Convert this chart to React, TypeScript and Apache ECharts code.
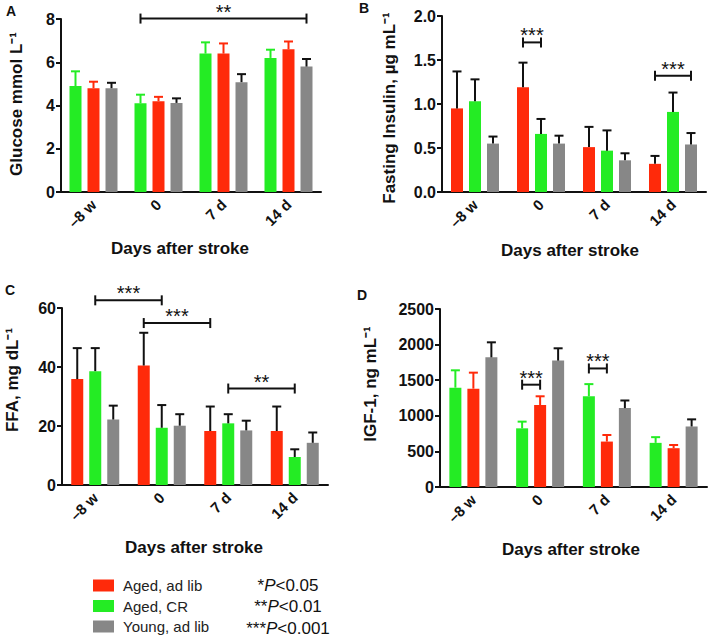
import React, { useEffect, useRef } from "react";
import * as echarts from "echarts";

// ---------- data ----------
const categories = ["–8 w", "0", "7 d", "14 d"];
const groupNames = ["Aged, ad lib", "Aged, CR", "Young, ad lib"];

// A: Glucose (order: CR, ad lib, young)
const glucoseCR = [4.9, 4.1, 6.4, 6.2];
const glucoseCRErr = [5.58, 4.5, 6.92, 6.58];
const glucoseAdLib = [4.8, 4.2, 6.4, 6.6];
const glucoseAdLibErr = [5.1, 4.4, 6.87, 6.96];
const glucoseYoung = [4.8, 4.12, 5.08, 5.8];
const glucoseYoungErr = [5.05, 4.33, 5.45, 6.15];

// B: Fasting insulin (order: ad lib, CR, young)
const insulinAdLib = [0.95, 1.19, 0.51, 0.32];
const insulinAdLibErr = [1.37, 1.47, 0.74, 0.41];
const insulinCR = [1.03, 0.66, 0.47, 0.91];
const insulinCRErr = [1.28, 0.83, 0.7, 1.13];
const insulinYoung = [0.55, 0.55, 0.36, 0.54];
const insulinYoungErr = [0.63, 0.64, 0.44, 0.67];

// C: FFA (order: ad lib, CR, young)
const ffaAdLib = [35.9, 40.5, 18.3, 18.3];
const ffaAdLibErr = [46.4, 51.6, 26.6, 26.6];
const ffaCR = [38.6, 19.4, 20.9, 9.5];
const ffaCRErr = [46.4, 27.1, 24.0, 12.1];
const ffaYoung = [22.2, 20.1, 18.5, 14.3];
const ffaYoungErr = [26.9, 24.0, 21.8, 17.8];

// D: IGF-1 (order: CR, ad lib, young)
const igfCR = [1395, 824, 1275, 620];
const igfCRErr = [1639, 918, 1445, 700];
const igfAdLib = [1381, 1152, 638, 545];
const igfAdLibErr = [1606, 1274, 730, 590];
const igfYoung = [1821, 1775, 1108, 850];
const igfYoungErr = [2032, 1948, 1215, 950];

// significance brackets: [category, bar slot] -> [category, bar slot], level, label
const bracketsA = [{ from: [1, 0], to: [3, 2], y: 8.02, text: "**" }];
const bracketsB = [
  { from: [1, 0], to: [1, 1], y: 1.7, text: "***" },
  { from: [3, 0], to: [3, 2], y: 1.32, text: "***" },
];
const bracketsC = [
  { from: [0, 1], to: [1, 1], y: 62.6, text: "***" },
  { from: [1, 0], to: [2, 0], y: 54.9, text: "***" },
  { from: [2, 1], to: [3, 1], y: 32.7, text: "**" },
];
const bracketsD = [
  { from: [1, 0], to: [1, 1], y: 1437, text: "***" },
  { from: [2, 0], to: [2, 1], y: 1665, text: "***" },
];

const pLevels = [
  { stars: "*", rest: "<0.05" },
  { stars: "**", rest: "<0.01" },
  { stars: "***", rest: "<0.001" },
];

// ---------- styles ----------
const RED = "#ff2a0a";
const GREEN = "#24ec24";
const GRAY = "#878787";
const INK = "#111111";
const FONT = "'Liberation Sans', Arial, sans-serif";
const BAR_W = 12;
const STEP = 18; // bar width + gap

const panels = [
  {
    letter: "A", grid: [61, 19, 260, 173], max: 8, interval: 2, fmt: (v: number) => String(v),
    title: "Glucose mmol L⁻¹", titlePos: [16, 104], xTitlePos: [180, 248], letterPos: [11, 11],
    series: [
      { name: groupNames[1], values: glucoseCR, errors: glucoseCRErr, color: GREEN, err: GREEN },
      { name: groupNames[0], values: glucoseAdLib, errors: glucoseAdLibErr, color: RED, err: RED },
      { name: groupNames[2], values: glucoseYoung, errors: glucoseYoungErr, color: GRAY, err: INK },
    ],
    brackets: bracketsA,
  },
  {
    letter: "B", grid: [442, 16, 264, 176], max: 2, interval: 0.5, fmt: (v: number) => v.toFixed(1),
    title: "Fasting Insulin, µg mL⁻¹", titlePos: [389, 108], xTitlePos: [570, 250], letterPos: [364, 8],
    series: [
      { name: groupNames[0], values: insulinAdLib, errors: insulinAdLibErr, color: RED, err: INK },
      { name: groupNames[1], values: insulinCR, errors: insulinCRErr, color: GREEN, err: INK },
      { name: groupNames[2], values: insulinYoung, errors: insulinYoungErr, color: GRAY, err: INK },
    ],
    brackets: bracketsB,
  },
  {
    letter: "C", grid: [62, 308, 266, 177], max: 60, interval: 20, fmt: (v: number) => String(v),
    title: "FFA, mg dL⁻¹", titlePos: [12, 380], xTitlePos: [194, 547], letterPos: [10, 290],
    series: [
      { name: groupNames[0], values: ffaAdLib, errors: ffaAdLibErr, color: RED, err: INK },
      { name: groupNames[1], values: ffaCR, errors: ffaCRErr, color: GREEN, err: INK },
      { name: groupNames[2], values: ffaYoung, errors: ffaYoungErr, color: GRAY, err: INK },
    ],
    brackets: bracketsC,
  },
  {
    letter: "D", grid: [440, 309, 267, 178], max: 2500, interval: 500, fmt: (v: number) => String(v),
    title: "IGF-1, ng mL⁻¹", titlePos: [370, 384], xTitlePos: [571, 549], letterPos: [362, 295],
    series: [
      { name: groupNames[1], values: igfCR, errors: igfCRErr, color: GREEN, err: GREEN },
      { name: groupNames[0], values: igfAdLib, errors: igfAdLibErr, color: RED, err: RED },
      { name: groupNames[2], values: igfYoung, errors: igfYoungErr, color: GRAY, err: INK },
    ],
    brackets: bracketsD,
  },
];

function errRender(offset: number, color: string) {
  return (params: any, api: any) => {
    const c = api.value(0);
    const v = api.value(1);
    const t = api.value(2);
    const p0 = api.coord([c, v]);
    const p1 = api.coord([c, t]);
    const x = p0[0] + offset;
    return {
      type: "group",
      children: [
        { type: "line", shape: { x1: x, y1: p0[1], x2: x, y2: p1[1] }, style: { stroke: color, lineWidth: 2 } },
        { type: "line", shape: { x1: x - 4.5, y1: p1[1], x2: x + 4.5, y2: p1[1] }, style: { stroke: color, lineWidth: 2 } },
      ],
    };
  };
}

function bracketRender(list: any[]) {
  return (params: any, api: any) => {
    const b = list[params.dataIndex];
    const pa = api.coord([api.value(0), api.value(4)]);
    const pb = api.coord([api.value(2), api.value(4)]);
    const x1 = pa[0] + (api.value(1) - 1) * STEP;
    const x2 = pb[0] + (api.value(3) - 1) * STEP;
    const y = pa[1];
    const st = { stroke: INK, lineWidth: 2 };
    return {
      type: "group",
      children: [
        { type: "line", shape: { x1, y1: y, x2, y2: y }, style: st },
        { type: "line", shape: { x1, y1: y - 5, x2: x1, y2: y + 5 }, style: st },
        { type: "line", shape: { x1: x2, y1: y - 5, x2, y2: y + 5 }, style: st },
        {
          type: "text",
          style: {
            text: b.text, x: (x1 + x2) / 2, y: y - 7,
            align: "center", verticalAlign: "middle", textAlign: "center", textVerticalAlign: "middle",
            fontSize: 20, fontFamily: FONT, fill: INK,
          },
        },
      ],
    };
  };
}

function buildOption() {
  const grid: any[] = [];
  const xAxis: any[] = [];
  const yAxis: any[] = [];
  const series: any[] = [];
  const graphic: any[] = [];
  const axisLineStyle = { color: INK, width: 2 };
  const labelStyle = { fontWeight: "bold", color: INK, fontFamily: FONT };

  panels.forEach((p, i) => {
    grid.push({ left: p.grid[0], top: p.grid[1], width: p.grid[2], height: p.grid[3], containLabel: false });
    xAxis.push({
      type: "category", gridIndex: i, data: categories,
      axisLine: { lineStyle: axisLineStyle },
      axisTick: { alignWithLabel: true, length: 4, interval: 0, lineStyle: axisLineStyle },
      axisLabel: { ...labelStyle, fontSize: 15, rotate: 45, margin: 10, interval: 0 },
    });
    yAxis.push({
      type: "value", gridIndex: i, min: 0, max: p.max, interval: p.interval,
      axisLine: { show: true, lineStyle: axisLineStyle },
      axisTick: { show: true, length: 5, lineStyle: axisLineStyle },
      splitLine: { show: false },
      axisLabel: { ...labelStyle, fontSize: 16, margin: 6, formatter: p.fmt },
    });
    p.series.forEach((s) => {
      series.push({
        type: "bar", name: s.name, xAxisIndex: i, yAxisIndex: i, data: s.values,
        barWidth: BAR_W, barGap: "50%", itemStyle: { color: s.color }, z: 2, silent: true,
      });
    });
    p.series.forEach((s, k) => {
      series.push({
        type: "custom", xAxisIndex: i, yAxisIndex: i,
        data: s.values.map((v, c) => [c, v, s.errors[c]]),
        encode: { x: 0, y: [1, 2] },
        renderItem: errRender((k - 1) * STEP, s.err), z: 3, silent: true,
      });
    });
    series.push({
      type: "custom", xAxisIndex: i, yAxisIndex: i,
      data: p.brackets.map((b) => [b.from[0], b.from[1], b.to[0], b.to[1], b.y]),
      encode: { x: 0, y: 4 },
      renderItem: bracketRender(p.brackets), z: 4, silent: true, clip: false,
    });

    graphic.push({
      type: "text", x: p.letterPos[0], y: p.letterPos[1],
      style: { text: p.letter, align: "center", verticalAlign: "middle", font: `bold 14px ${FONT}`, fill: INK },
    });
    graphic.push({
      type: "text", x: p.titlePos[0], y: p.titlePos[1], rotation: Math.PI / 2,
      style: { text: p.title, align: "center", verticalAlign: "middle", font: `bold 17px ${FONT}`, fill: INK },
    });
    graphic.push({
      type: "text", x: p.xTitlePos[0], y: p.xTitlePos[1],
      style: { text: "Days after stroke", align: "center", verticalAlign: "middle", font: `bold 17px ${FONT}`, fill: INK },
    });
  });

  pLevels.forEach((lv, k) => {
    graphic.push({
      type: "text", x: 288, y: 585 + k * 21.5,
      style: {
        text: `{a|${lv.stars}}{p|P}{a|${lv.rest}}`, align: "center", verticalAlign: "middle",
        rich: {
          a: { fontSize: 17, fontFamily: FONT, fill: INK, color: INK },
          p: { fontSize: 17, fontFamily: FONT, fontStyle: "italic", fill: INK, color: INK },
        },
      },
    });
  });

  return {
    animation: false,
    backgroundColor: "#ffffff",
    grid, xAxis, yAxis, series, graphic,
    legend: {
      data: groupNames, orient: "vertical", left: 93, top: 578, height: 58, padding: 0,
      itemWidth: 21, itemHeight: 12, itemGap: 5.5, icon: "rect", selectedMode: false,
      textStyle: { fontSize: 15, lineHeight: 15, fontFamily: FONT, color: "#222", padding: [0, 0, 0, 4] },
    },
  };
}

export default function App() {
  const ref = useRef<HTMLDivElement>(null);
  useEffect(() => {
    if (!ref.current) return;
    const chart = echarts.init(ref.current, undefined, { renderer: "svg" });
    chart.setOption(buildOption() as any);
    return () => chart.dispose();
  }, []);
  return <div ref={ref} style={{ width: 709, height: 636, position: "absolute", left: 0, top: 0 }} />;
}
